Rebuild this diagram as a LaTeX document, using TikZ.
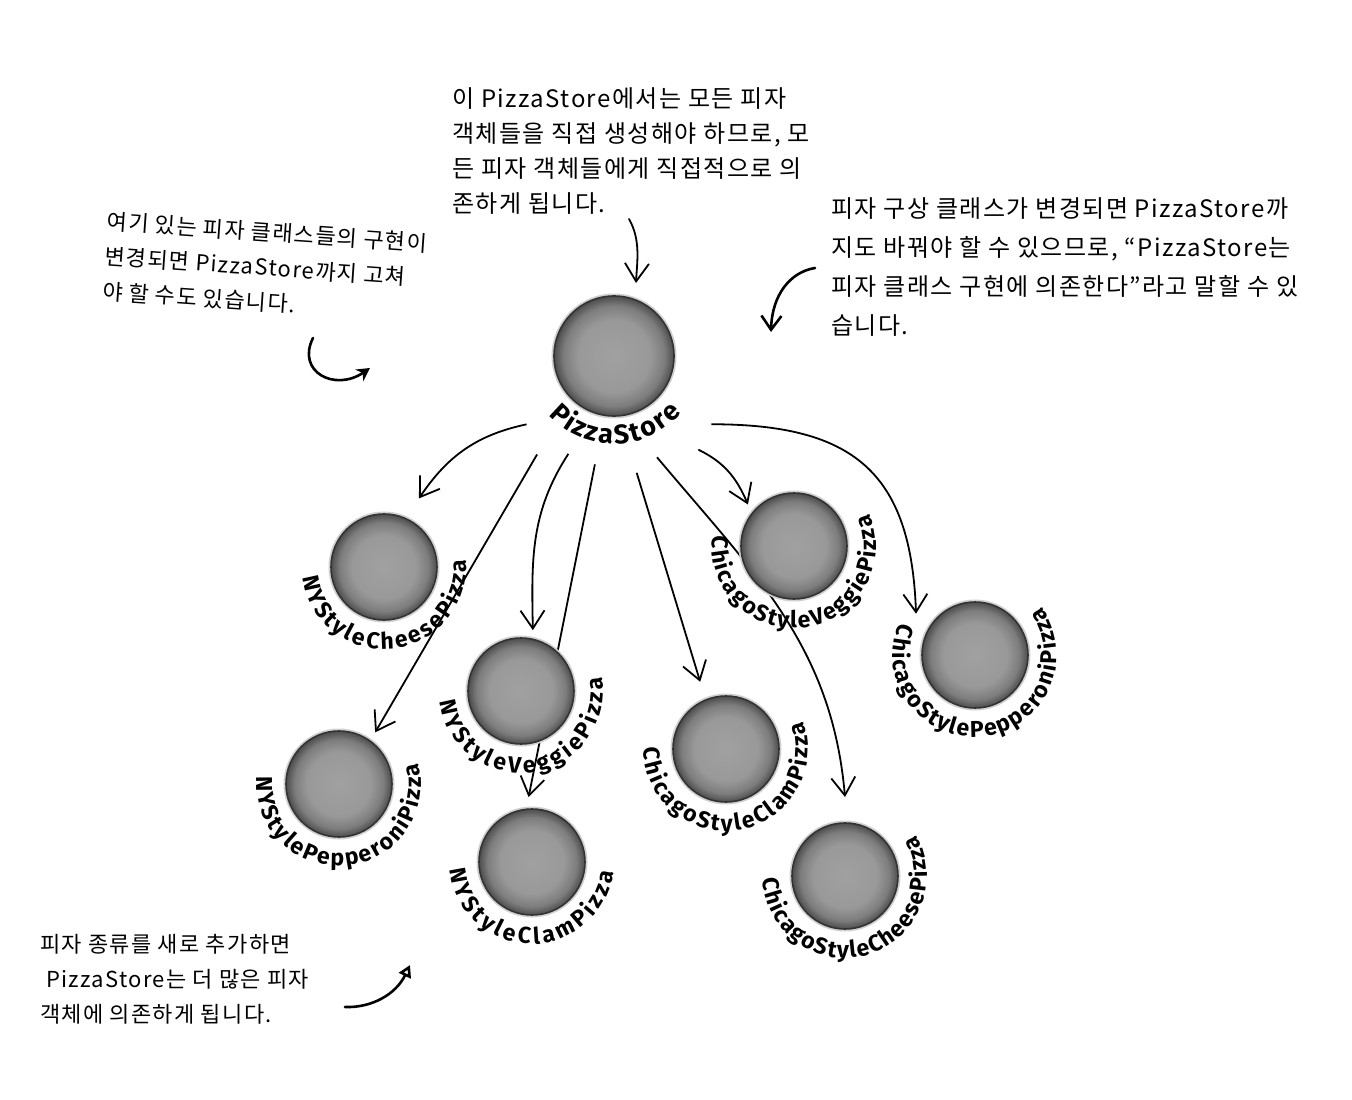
\documentclass[tikz,border=0pt]{standalone}
\usepackage{fontspec}
\setmainfont{Noto Sans CJK KR}[LetterSpace=6]
\newfontfamily\pzfont{Fira Sans}
\usetikzlibrary{arrows.meta,decorations.text,backgrounds}
\pgfdeclareradialshading{pizzaball}{\pgfpoint{0bp}{0bp}}{color(0bp)=(black!37); color(15bp)=(black!40); color(21bp)=(black!51); color(25bp)=(black!70); color(50bp)=(black!70)}
\newcommand\lblfont{\pzfont\bfseries\fontsize{23}{23}\selectfont}
\begin{document}
\begin{tikzpicture}[x=1pt, y=-1pt, >={Straight Barb[length=18pt,width=24pt]},
  pizza/.style={circle, minimum size=106pt, inner sep=0pt, draw=black!80, line width=1.6pt,
    shading=pizzaball, preaction={draw=black!18, line width=5pt}},
  dep/.style={->, line width=1.8pt},
  note/.style={align=left, anchor=north west, inner sep=0pt, font=\fontsize{22}{35}\selectfont},
  hand/.style={line width=2.6pt, line cap=round}]
\useasboundingbox (0,0) rectangle (1352,1100);

% notes
\node[note, font=\fontsize{24}{35}\selectfont] (top note) at (452,87) {이 PizzaStore에서는 모든 피자\\객체들을 직접 생성해야 하므로, 모\\든 피자 객체들에게 직접적으로 의\\존하게 됩니다.};
\node[note, rotate=-4] (left note) at (108,211) {여기 있는 피자 클래스들의 구현이\\변경되면 PizzaStore까지 고쳐\\야 할 수도 있습니다.};
\node[note, font=\fontsize{24}{39}\selectfont] (right note) at (831,197) {피자 구상 클래스가 변경되면 PizzaStore까\\지도 바꿔야 할 수 있으므로, “PizzaStore는\\피자 클래스 구현에 의존한다”라고 말할 수 있\\습니다.};
\node[note] (bottom note) at (40,934) {피자 종류를 새로 추가하면\\\hspace{6pt}PizzaStore는 더 많은 피자\\객체에 의존하게 됩니다.};

% pizzas
\node[pizza, minimum size=120pt] (ps) at (614,356) {};
{\pzfont\bfseries\fontsize{27}{27}\selectfont
\path[decorate, decoration={text along path, text={PizzaStore}, text align=fit to path}]
  (ps.center) ++(222:88pt) arc[start angle=222, end angle=320, radius=88pt];}
\foreach \n/\x/\y/\lbl/\sa/\ea in {nyc/384/567/NYStyleCheesePizza/187/365,
    nyv/521/691/NYStyleVeggiePizza/187/370,
    nyp/339/784/NYStylePepperoniPizza/175/375,
    nyl/532/862/NYStyleClamPizza/185/353,
    cvg/794/546/ChicagoStyleVeggiePizza/173/383,
    cpp/975/655/ChicagoStylePepperoniPizza/157/396,
    ccl/726/749/ChicagoStyleClamPizza/179/380,
    cch/845/876/ChicagoStyleCheesePizza/182/390}
{
    \node[pizza] (\n) at (\x,\y) {};
    \lblfont
    \path[decorate, decoration={text along path, text/.expanded=\lbl, text align=fit to path}]
      (\n.center) ++(\sa:82pt) arc[start angle=\sa, end angle=\ea, radius=82pt];
}

% dependencies
\begin{scope}[on background layer]
\fill[white] (0,0) rectangle (1352,1100);
\draw[dep] ([shift={(218:111pt)}]ps.center) to[out=192, in=56] ([shift={(63:77pt)}]nyc.center);
\draw[dep] ([shift={(232:125pt)}]ps.center) -- ([shift={(55:63pt)}]nyp.center);
\draw[dep] ([shift={(245:108pt)}]ps.center) to[out=237, in=91] ([shift={(79:62pt)}]nyv.center);
\draw[dep] ([shift={(260:110pt)}]ps.center) -- ([shift={(93:65pt)}]nyl.center);
\draw[dep] ([shift={(281:119pt)}]ps.center) -- ([shift={(111:72pt)}]ccl.center);
\draw[dep] ([shift={(293:110pt)}]ps.center) to[out=310, in=95] ([shift={(90:79pt)}]cch.center);
\draw[dep] ([shift={(312:126pt)}]ps.center) to[out=334, in=113] ([shift={(138:62pt)}]cvg.center);
\draw[dep] ([shift={(325:119pt)}]ps.center) to[out=0, in=92, looseness=1.3] ([shift={(145:72pt)}]cpp.center);
\end{scope}

% hand arrows
\coordinate (top tail) at (629,219);
\coordinate (top tip) at (636,283);
\coordinate (right tail) at (815,268);
\coordinate (right tip) at (771,332);
\coordinate (left tail) at (313,338);
\coordinate (left tip) at (370,368);
\coordinate (bottom tail) at (345,1007);
\coordinate (bottom tip) at (410,965);
\draw[hand, line width=1.8pt, ->] (top tail) .. controls (641,240) and (637,262) .. (top tip);
\draw[hand, -{Straight Barb[length=14pt,width=20pt]}] (right tail) .. controls (790,272) and (772,295) .. (right tip);
\draw[hand, -{Stealth[length=13pt,width=14pt]}] (left tail) .. controls (296,372) and (335,392) .. (left tip);
\draw[hand, -{Triangle[open,length=12pt,width=13pt]}] (bottom tail) .. controls (372,1008) and (396,994) .. (bottom tip);
\end{tikzpicture}
\end{document}
